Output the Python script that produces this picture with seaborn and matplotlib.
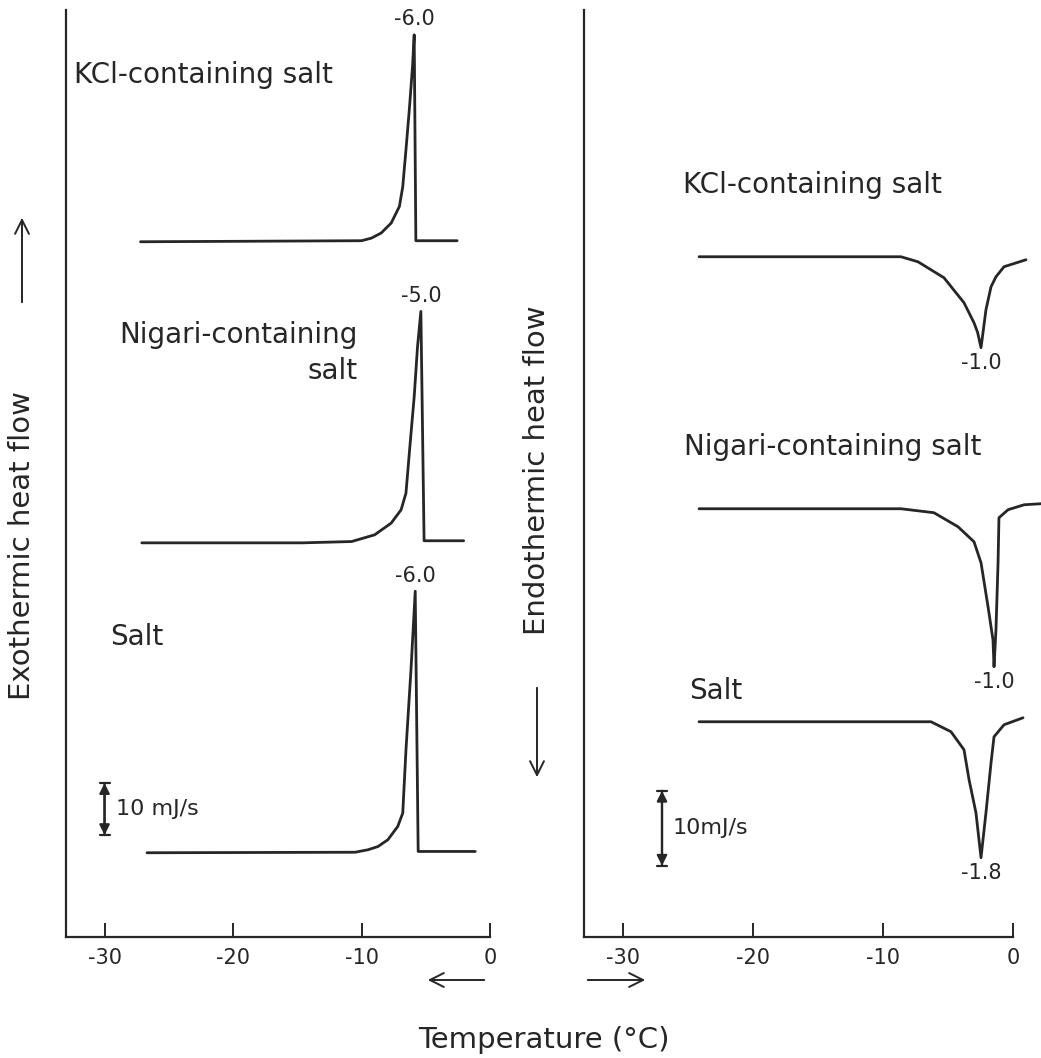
import numpy as np
import pandas as pd
import matplotlib
matplotlib.use("Agg")
import matplotlib.pyplot as plt
from matplotlib.patches import FancyArrowPatch
import seaborn as sns

# ---------------- data (temperature in degC, heat flow in mJ/s relative to baseline) ----------------
samples = ["KCl-containing salt", "Nigari-containing salt", "Salt"]

# Cooling (exothermic) curves
cool_kcl_t = [-27.2, -10.0, -9.23, -8.46, -7.69, -7.05, -6.79, -6.54, -6.28, -6.03, -5.9, -5.77, -2.56]
cool_kcl_q = [0.0, 0.2, 0.7, 1.7, 3.6, 6.8, 10.6, 17.7, 25.4, 33.7, 39.8, 0.2, 0.2]
cool_nig_t = [-27.1, -14.6, -10.77, -8.98, -7.69, -6.92, -6.54, -6.28, -5.9, -5.64, -5.38, -5.13, -2.05]
cool_nig_q = [0.0, 0.0, 0.25, 1.54, 3.8, 6.35, 9.56, 17.25, 28.1, 37.75, 44.5, 0.4, 0.4]
cool_salt_t = [-26.7, -10.5, -9.49, -8.72, -7.95, -7.18, -6.79, -6.54, -6.15, -5.82, -5.59, -1.15]
cool_salt_q = [0.0, 0.1, 0.58, 1.2, 2.5, 5.06, 7.63, 19.8, 35.2, 50.3, 0.25, 0.25]
cool_offsets = [133.7, 75.8, 16.2]
cool_peak_labels = ["-6.0", "-5.0", "-6.0"]

# Heating (endothermic) curves
heat_kcl_t = [-24.15, -8.62, -7.31, -5.31, -3.77, -3.0, -2.72, -2.46, -2.08, -1.69, -1.31, -0.69, 1.0]
heat_kcl_q = [0.0, 0.0, -0.67, -2.8, -6.13, -8.8, -10.1, -12.13, -7.07, -4.0, -2.67, -1.33, -0.4]
heat_nig_t = [-24.15, -12.46, -8.62, -6.08, -4.23, -3.0, -2.46, -1.92, -1.54, -1.46, -1.31, -1.15, -1.08, -0.38, 0.85, 2.15]
heat_nig_q = [0.0, 0.0, 0.0, -0.53, -2.4, -4.4, -7.2, -13.07, -17.47, -21.07, -16.13, -7.2, -1.2, -0.13, 0.53, 0.67]
heat_salt_t = [-24.15, -6.31, -4.77, -3.77, -3.38, -2.85, -2.46, -2.08, -1.69, -1.46, -0.69, 0.77]
heat_salt_q = [0.0, 0.0, -1.33, -3.73, -7.73, -12.13, -18.13, -12.13, -5.47, -2.0, -0.4, 0.53]
heat_offsets = [90.7, 57.1, 28.7]
heat_peak_labels = ["-1.0", "-1.0", "-1.8"]

xticks = [-30, -20, -10, 0]
scale_bar = 10  # mJ/s

# ---------------- build tables ----------------
def build(ts, qs, offs):
    rows = []
    for name, t, q, off in zip(samples, ts, qs, offs):
        for ti, qi in zip(t, q):
            rows.append({"sample": name, "temp": ti, "flow": qi, "signal": off + qi})
    return pd.DataFrame(rows)

df_cool = build([cool_kcl_t, cool_nig_t, cool_salt_t], [cool_kcl_q, cool_nig_q, cool_salt_q], cool_offsets)
df_heat = build([heat_kcl_t, heat_nig_t, heat_salt_t], [heat_kcl_q, heat_nig_q, heat_salt_q], heat_offsets)

# ---------------- style ----------------
sns.set_theme(style="white")
plt.rcParams["font.family"] = ["DejaVu Sans"]
plt.rcParams["axes.unicode_minus"] = False
INK = "#262626"

W, H = 1041, 1058
fig = plt.figure(figsize=(W / 100, H / 100), dpi=100)
fig.patch.set_facecolor("white")

def fp(x, y):
    return (x / W, 1 - y / H)

ax1 = fig.add_axes([66 / W, 121 / H, 424 / W, 927 / H])
ax2 = fig.add_axes([584 / W, 121 / H, 35.3 * 13 / W, 927 / H])

for ax, df in ((ax1, df_cool), (ax2, df_heat)):
    sns.lineplot(data=df, x="temp", y="signal", units="sample", estimator=None,
                 sort=False, color=INK, lw=2.0, ax=ax, legend=False)

ax1.set_xlim(-33, 0)
ax1.set_ylim(0, 927 / 5.2)
ax2.set_xlim(-33, 2.3)
ax2.set_ylim(0, 927 / 7.5)

for ax in (ax1, ax2):
    ax.set_xlabel("")
    ax.set_ylabel("")
    ax.set_yticks([])
    ax.set_xticks(xticks)
    ax.set_xticklabels([str(v) for v in xticks])
    ax.tick_params(axis="x", direction="in", length=10, width=1.4, labelsize=15,
                   pad=8, colors=INK, bottom=True)
    for s in ("top", "right"):
        ax.spines[s].set_visible(False)
    for s in ("left", "bottom"):
        ax.spines[s].set_color(INK)
        ax.spines[s].set_linewidth(1.6)
    ax.patch.set_alpha(0)
ax2.spines["bottom"].set_bounds(-33, 0)

# peak labels
for ax, ts, qs, offs, labs, sign in (
    (ax1, [cool_kcl_t, cool_nig_t, cool_salt_t], [cool_kcl_q, cool_nig_q, cool_salt_q], cool_offsets, cool_peak_labels, 1),
    (ax2, [heat_kcl_t, heat_nig_t, heat_salt_t], [heat_kcl_q, heat_nig_q, heat_salt_q], heat_offsets, heat_peak_labels, -1),
):
    for t, q, off, lab in zip(ts, qs, offs, labs):
        i = int(np.argmax(np.array(q) * sign))
        ax.annotate(lab, xy=(t[i], off + q[i]), xytext=(0, 4 * sign), textcoords="offset points",
                    ha="center", va="bottom" if sign > 0 else "top", fontsize=15, color=INK)

# sample labels
lab_fs = 20
ax1.text(-32.4, 165.8, "KCl-containing salt", fontsize=lab_fs, color=INK, va="center", ha="left")
ax1.text(-10.3, 112.3, "Nigari-containing\nsalt", fontsize=lab_fs, color=INK, va="center", ha="right",
         multialignment="right", linespacing=1.4)
ax1.text(-29.6, 57.7, "Salt", fontsize=lab_fs, color=INK, va="center", ha="left")
ax2.text(-25.4, 100.3, "KCl-containing salt", fontsize=lab_fs, color=INK, va="center", ha="left")
ax2.text(-25.3, 65.3, "Nigari-containing salt", fontsize=lab_fs, color=INK, va="center", ha="left")
ax2.text(-24.9, 32.8, "Salt", fontsize=lab_fs, color=INK, va="center", ha="left")

# scale bars
def scalebar(ax, x, y0, text, tx):
    ax.annotate("", xy=(x, y0 + scale_bar), xytext=(x, y0),
                arrowprops=dict(arrowstyle="<|-|>,head_length=0.5,head_width=0.25", color=INK, lw=1.6,
                                shrinkA=0, shrinkB=0))
    ax.annotate("", xy=(x, y0 + scale_bar), xytext=(x, y0),
                arrowprops=dict(arrowstyle="|-|,widthA=0.3,widthB=0.3", color=INK, lw=1.6,
                                shrinkA=0, shrinkB=0))
    ax.text(tx, y0 + scale_bar / 2, text, fontsize=16, color=INK, va="center", ha="left")

scalebar(ax1, -30.0, 19.6, "10 mJ/s", -29.1)
scalebar(ax2, -27.0, 9.5, "10mJ/s", -26.15)

# axis titles and direction arrows
fig.text(*fp(22, 546), "Exothermic heat flow", rotation=90, fontsize=21, color=INK,
         ha="center", va="center")
fig.text(*fp(537, 470), "Endothermic heat flow", rotation=90, fontsize=21, color=INK,
         ha="center", va="center")
fig.text(*fp(544, 1040), "Temperature (°C)", fontsize=21, color=INK, ha="center", va="center")

def farrow(p0, p1):
    fig.add_artist(FancyArrowPatch(fp(*p0), fp(*p1), transform=fig.transFigure,
                                   arrowstyle="->,head_length=0.5,head_width=0.25",
                                   mutation_scale=20, lw=1.4, color=INK))

farrow((22, 305), (22, 215))
farrow((537, 685), (537, 780))
farrow((487, 980), (425, 980))
farrow((585, 980), (648, 980))

fig.savefig("out.png", dpi=100, facecolor="white")
